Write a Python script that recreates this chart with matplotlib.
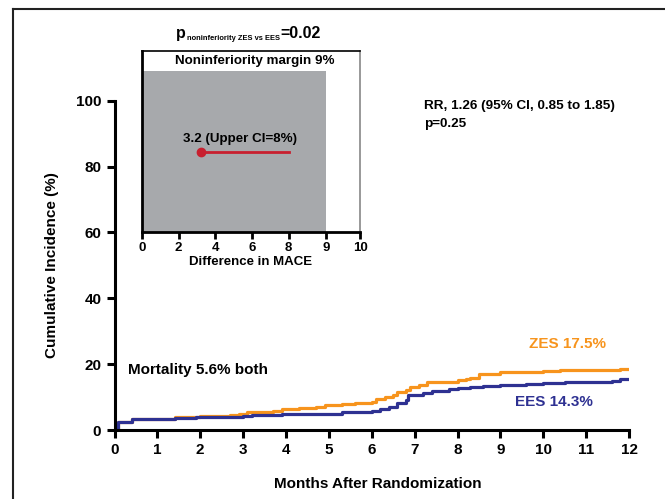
import numpy as np
import matplotlib.pyplot as plt
from matplotlib.lines import Line2D

plt.rcParams["font.family"] = ["Liberation Sans", "DejaVu Sans"]
plt.rcParams["font.weight"] = "bold"

# --- Data ---
zes_months = [0, 0.08, 0.4, 1.4, 2.0, 2.7, 2.9, 3.1, 3.7, 3.9, 4.3, 4.7, 4.9, 5.3, 5.6,
              6.0, 6.1, 6.3, 6.5, 6.6, 6.8, 6.9, 7.1, 7.3, 7.6, 8.0, 8.2, 8.3, 8.5,
              8.9, 9.0, 10.0, 10.4, 11.8, 12.0]
zes_inc = [0, 2.4, 3.4, 3.8, 4.3, 4.6, 5.0, 5.5, 5.8, 6.3, 6.6, 7.0, 7.5, 7.8, 8.1,
           8.6, 9.5, 10.0, 10.5, 11.5, 12.0, 13.2, 13.7, 14.5, 14.6, 15.3, 15.6, 15.8, 16.9,
           17.0, 17.6, 17.8, 18.2, 18.6, 18.6]

ees_months = [0, 0.08, 0.4, 1.4, 1.9, 3.0, 3.2, 3.9, 5.3, 6.0, 6.2, 6.4, 6.6, 6.8, 6.85,
              7.2, 7.4, 7.8, 8.0, 8.3, 8.6, 9.0, 9.6, 10.0, 10.5, 11.6, 11.8, 12.0]
ees_inc = [0, 2.4, 3.3, 3.6, 3.9, 4.2, 4.5, 5.0, 5.5, 5.9, 6.3, 6.9, 8.3, 9.0, 10.7,
           11.2, 11.9, 12.3, 12.8, 13.2, 13.4, 13.6, 13.9, 14.2, 14.5, 15.0, 15.4, 15.4]

x_ticks = list(range(0, 13))
y_ticks = [0, 20, 40, 60, 80, 100]

margin = 9
diff_point = 3.2
diff_upper = 8
inset_ticks = [0, 2, 4, 6, 8, 9, 10]
# the inset axis is stretched past 8 in the original
inset_breaks = [0, 8, 9, 10]
inset_pos = [0, 8, 10.04, 11.9]

ZES_COLOR = "#F7941D"
EES_COLOR = "#2E3192"

fig = plt.figure(figsize=(6.65, 4.99), dpi=100)

# outer frame
fig.add_artist(Line2D([13 / 665, 13 / 665], [0, 1 - 9 / 499], transform=fig.transFigure,
                      color="#222222", lw=1.5))
fig.add_artist(Line2D([13 / 665, 1], [1 - 9 / 499, 1 - 9 / 499], transform=fig.transFigure,
                      color="#222222", lw=1.5))

# --- Main KM plot ---
ax = fig.add_axes([114.5 / 665, 69 / 499, 514.5 / 665, 329.3 / 499])
ax.step(zes_months, zes_inc, where="post", color=ZES_COLOR, lw=2.3)
ax.step(ees_months, ees_inc, where="post", color=EES_COLOR, lw=2.3)
ax.set_xlim(0, 12)
ax.set_ylim(0, 100)
ax.set_xticks(x_ticks)
ax.set_yticks(y_ticks)
for s in ["top", "right"]:
    ax.spines[s].set_visible(False)
for s in ["left", "bottom"]:
    ax.spines[s].set_linewidth(2.2)
ax.tick_params(width=2.2, length=6, labelsize=11, direction="out")
ax.set_xlabel("Months After Randomization", fontsize=11, fontweight="bold", labelpad=14)
ax.xaxis.label.set_x(0.511)
ax.set_ylabel("Cumulative Incidence (%)", fontsize=11, fontweight="bold", labelpad=12)

ax.text(10.56, 26, "ZES 17.5%", color=ZES_COLOR, fontsize=11, ha="center", va="center")
ax.text(10.26, 8.5, "EES 14.3%", color=EES_COLOR, fontsize=11, ha="center", va="center")
ax.text(0.31, 18.2, "Mortality 5.6% both", color="black", fontsize=11, ha="left", va="center")

fig.text(424 / 665, 1 - 109 / 499, "RR, 1.26 (95% CI, 0.85 to 1.85)",
         fontsize=9.7, va="baseline", ha="left")
fig.text(424 / 665, 1 - 127 / 499, "p=0.25", fontsize=9.7, va="baseline", ha="left")

# title with a small subscript
t1 = fig.text(176 / 665, 1 - 38.3 / 499, "p", fontsize=11.5, va="baseline", ha="left")
t2 = ax.annotate("noninferiority ZES vs EES", xy=(1, 1 - 39.8 / 499),
                 xycoords=(t1, "figure fraction"), xytext=(0.6, 0), textcoords="offset points",
                 fontsize=5.4, va="baseline", ha="left", annotation_clip=False)
ax.annotate("=0.02", xy=(1, 1 - 38.3 / 499), xycoords=(t2, "figure fraction"),
            xytext=(0.8, 0), textcoords="offset points",
            fontsize=11.5, va="baseline", ha="left", annotation_clip=False)

# --- Inset: noninferiority ---
ins = fig.add_axes([142 / 665, 267 / 499, 218 / 665, 181 / 499])
ins.set_xscale("function", functions=(lambda v: np.interp(v, inset_breaks, inset_pos),
                                      lambda v: np.interp(v, inset_pos, inset_breaks)))
ins.set_xlim(0, 10)
ins.set_ylim(0, 100)
ins.fill_between([0, margin], 0, 89, color="#A7A9AC", lw=0, zorder=1)
ins.plot([diff_point, diff_upper], [44, 44], color="#C8202F", lw=2, zorder=3)
ins.plot([diff_point], [44], "o", color="#C8202F", ms=6, zorder=4)
ins.text(0.451, 0.516, "3.2 (Upper CI=8%)", fontsize=9.6, ha="center", va="center",
         transform=ins.transAxes)
ins.text(0.515, 0.945, "Noninferiority margin 9%", fontsize=9.6, ha="center", va="center",
         transform=ins.transAxes)
ins.set_xticks(inset_ticks)
ins.set_xticklabels([str(t) for t in inset_ticks])
ins.minorticks_off()
ins.set_yticks([])
ins.tick_params(width=2, length=5, labelsize=9.5, pad=2.5)
ins.spines["left"].set_linewidth(2)
ins.spines["bottom"].set_linewidth(2)
ins.spines["top"].set_linewidth(1.2)
ins.spines["right"].set_linewidth(1.2)
ins.spines["right"].set_color("#888888")
ins.set_xlabel("Difference in MACE", fontsize=9.5, fontweight="bold", labelpad=1)

fig.savefig("out.png", dpi=100)
